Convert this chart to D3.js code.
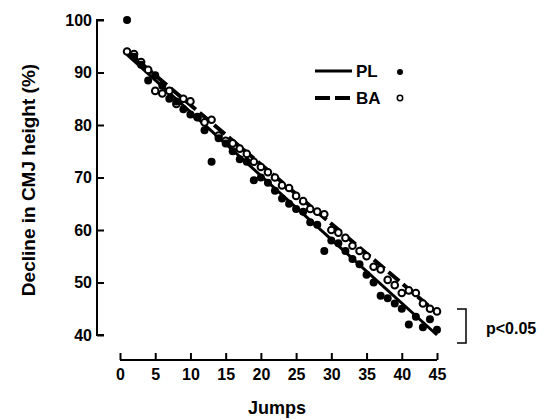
<!DOCTYPE html>
<html>
<head>
<meta charset="utf-8">
<script src="https://cdn.jsdelivr.net/npm/d3@7"></script>
<style>
body { margin: 0; background: #fff; }
text { font-family: "Liberation Sans", Arial, sans-serif; font-weight: bold; }
</style>
</head>
<body>
<script>
var jumps = d3.range(1, 46);

// decline in CMJ height (%) per jump
var plValues = [100, 93, 91.5, 88.5, 89.5, 87.5, 85, 84.5, 83, 82,
    81.5, 79, 73, 77.5, 76.5, 75, 73.5, 73, 69.5, 70,
    69, 67.5, 66, 65, 64, 63.5, 61.5, 61, 56, 58,
    57.5, 56, 54.5, 53.5, 51.5, 50, 47.5, 47, 46, 45,
    42, 43.5, 41.5, 43, 41];
var baValues = [94, 93.5, 92, 90.5, 86.5, 86, 86.5, 84, 85, 84.5,
    81.5, 80.5, 81, 78, 77, 76.5, 75.5, 74.5, 73, 72,
    71, 70, 68.5, 68, 66.5, 65.5, 64, 63.5, 63, 60,
    59.5, 58.5, 57, 56, 55, 53, 52.5, 50.5, 49.5, 48,
    48.5, 48, 46, 45, 44.5];

// regression lines, value at jump 1 and jump 45
var fitJumps = [1, 45];
var plFit = [93.4, 40.0];
var baFit = [94.0, 44.2];

var xTicks = [0, 5, 10, 15, 20, 25, 30, 35, 40, 45];
var yTicks = [40, 50, 60, 70, 80, 90, 100];

var svgWidth = 552, svgHeight = 420;

var xScale = d3.scaleLinear().domain([0, 45]).range([120, 437]);
var yScale = d3.scaleLinear().domain([40, 100]).range([335, 20]);

var svg = d3.select('body').append('svg')
    .attr('width', svgWidth)
    .attr('height', svgHeight);

// y axis (detached, ticks inside)
var yAxis = svg.append('g')
    .attr('transform', 'translate(97,0)')
    .call(d3.axisRight(yScale).tickValues(yTicks).tickSize(7).tickFormat(d3.format('d')));
yAxis.select('.domain').attr('d', 'M7,' + yScale(40) + 'H0V' + yScale(100) + 'H7')
    .attr('stroke-width', 2);
yAxis.selectAll('.tick line').attr('stroke-width', 2);
yAxis.selectAll('.tick text')
    .attr('x', -5).attr('text-anchor', 'end')
    .attr('font-size', 16).attr('fill', '#000');

// x axis
var xAxis = svg.append('g')
    .attr('transform', 'translate(0,360)')
    .call(d3.axisTop(xScale).tickValues(xTicks).tickSize(7));
xAxis.select('.domain').attr('d', 'M' + xScale(0) + ',0H' + xScale(45))
    .attr('stroke-width', 2);
xAxis.selectAll('.tick line').attr('stroke-width', 2);
xAxis.selectAll('.tick text')
    .attr('y', 9).attr('dy', '0.71em')
    .attr('font-size', 16).attr('fill', '#000');

svg.append('text')
    .attr('x', 277).attr('y', 414)
    .attr('text-anchor', 'middle')
    .attr('font-size', 18)
    .text('Jumps');

svg.append('text')
    .attr('transform', 'translate(35,180) rotate(-90)')
    .attr('text-anchor', 'middle')
    .attr('font-size', 19)
    .text('Decline in CMJ height (%)');

var line = d3.line()
    .x(function(d) { return xScale(d[0]); })
    .y(function(d) { return yScale(d[1]); });

svg.append('path')
    .datum(d3.zip(fitJumps, plFit))
    .attr('d', line)
    .attr('fill', 'none')
    .attr('stroke', '#000')
    .attr('stroke-width', 3);

svg.append('path')
    .datum(d3.zip(fitJumps, baFit))
    .attr('d', line)
    .attr('fill', 'none')
    .attr('stroke', '#000')
    .attr('stroke-width', 4)
    .attr('stroke-dasharray', '14,5');

svg.append('g').selectAll('circle')
    .data(d3.zip(jumps, baValues))
    .join('circle')
    .attr('cx', function(d) { return xScale(d[0]); })
    .attr('cy', function(d) { return yScale(d[1]); })
    .attr('r', 3.3)
    .attr('fill', '#fff')
    .attr('stroke', '#000')
    .attr('stroke-width', 2);

svg.append('g').selectAll('circle')
    .data(d3.zip(jumps, plValues))
    .join('circle')
    .attr('cx', function(d) { return xScale(d[0]); })
    .attr('cy', function(d) { return yScale(d[1]); })
    .attr('r', 4)
    .attr('fill', '#000');

// legend
var legend = svg.append('g');
legend.append('line')
    .attr('x1', 315).attr('x2', 352).attr('y1', 71).attr('y2', 71)
    .attr('stroke', '#000').attr('stroke-width', 3);
legend.append('line')
    .attr('x1', 315).attr('x2', 352).attr('y1', 98).attr('y2', 98)
    .attr('stroke', '#000').attr('stroke-width', 4)
    .attr('stroke-dasharray', '15,5');
legend.append('text').attr('x', 356).attr('y', 77).attr('font-size', 17).text('PL');
legend.append('text').attr('x', 356).attr('y', 104).attr('font-size', 17).text('BA');
legend.append('circle').attr('cx', 400).attr('cy', 72).attr('r', 3).attr('fill', '#000');
legend.append('circle').attr('cx', 400).attr('cy', 98).attr('r', 2.7)
    .attr('fill', '#fff').attr('stroke', '#000').attr('stroke-width', 1.5);

// significance bracket
svg.append('path')
    .attr('d', 'M457,309H466V343H457')
    .attr('fill', 'none')
    .attr('stroke', '#000')
    .attr('stroke-width', 1.5);
svg.append('text')
    .attr('x', 486).attr('y', 334)
    .attr('font-size', 16)
    .text('p<0.05');
</script>
</body>
</html>
